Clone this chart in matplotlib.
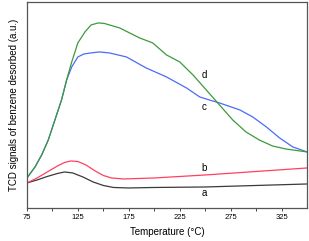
import numpy as np
import matplotlib.pyplot as plt

plt.rcParams['font.family'] = ['Liberation Sans', 'DejaVu Sans']

# curve data (temperature in °C, signal in arbitrary units)
t_a = [75, 85, 95, 105, 112, 120, 130, 140, 150, 160, 175, 200, 250, 300, 350]
s_a = [25, 28, 31.5, 34.5, 36, 35, 31, 26, 22.5, 20.5, 20, 20.5, 21, 22.5, 24]

t_b = [75, 85, 95, 105, 112, 118, 125, 133, 142, 150, 158, 170, 200, 250, 300, 350]
s_b = [25, 30, 36, 42, 45.5, 47, 46.5, 43, 37, 32.5, 30, 29, 30, 33, 36.5, 40]

t_c = [75, 83, 89.5, 96, 102.5, 109, 114, 119, 125, 131, 138, 146, 156, 172.7,
       192, 212, 231.6, 244.6, 254, 264, 284, 296.6, 310, 323, 336, 350]
s_c = [30, 41, 53, 68, 88, 108, 128, 141, 151, 154, 155, 156, 155, 151,
       140, 131, 120, 111, 108, 105, 98, 91, 81, 70, 61, 56]

t_d = [75, 83, 89.5, 96, 102.5, 109, 114, 119, 125, 132, 138, 145, 151, 166,
       185.6, 198.5, 212, 225, 238, 251, 264, 277, 290, 303, 316, 329, 350]
s_d = [30, 41, 53, 68, 88, 108, 128, 146, 165, 176, 183, 185, 184.5, 180,
       170, 165, 153, 146, 133, 118, 103, 88, 76, 68, 62, 59, 56]

labels = ['a', 'b', 'c', 'd']
label_pos = [(249, 15), (249, 40), (249, 101), (249, 133)]

fig = plt.figure(figsize=(3.09, 2.41), dpi=100)
ax = fig.add_axes([0.087, 0.137, 0.907, 0.855])

ax.plot(t_a, s_a, color='#3a3a3a', lw=0.9)
ax.plot(t_b, s_b, color='#ff4060', lw=0.9)
ax.plot(t_c, s_c, color='#4a6cf5', lw=0.9)
ax.plot(t_d, s_d, color='#3c9a3c', lw=0.9)

for lab, (x, y) in zip(labels, label_pos):
    ax.text(x, y, lab, fontsize=7, ha='center', va='center')

ax.set_xlim(75, 350)
ax.set_ylim(0, 206)
ax.set_xticks([75, 125, 175, 225, 275, 325])
ax.set_xticks([100, 150, 200, 250, 300], minor=True)
ax.set_yticks([])
ax.tick_params(axis='x', which='both', direction='out', length=2.5, width=0.7,
               labelsize=5.5, pad=2, color='#444444')
for sp in ax.spines.values():
    sp.set_color('#555555')
    sp.set_linewidth(0.9)

ax.set_xlabel('Temperature (°C)', fontsize=7, labelpad=4)
ax.set_ylabel('TCD signals of benzene desorbed (a.u.)', fontsize=7, labelpad=6)

plt.savefig('out.png', dpi=100)
